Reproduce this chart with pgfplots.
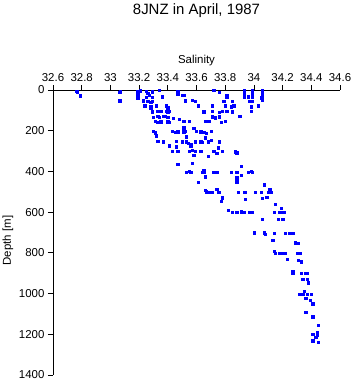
\documentclass[border=0pt]{standalone}
\usepackage{fontspec}
\setmainfont{Liberation Sans}
\usepackage{pgfplots}
\usepackage{pgfplotstable}
\pgfplotsset{compat=1.18}
\pgfplotstableread{
sal depth
32.765 5
32.77 10
32.788 28
33.067 5
33.065 12
33.065 52
33.19 5
33.19 20
33.19 38
33.21 3
33.25 5
33.26 15
33.27 25
33.29 8
33.25 35
33.29 35
33.34 0
33.36 33
33.47 5
33.47 21
33.51 25
33.50 25
33.23 52
33.26 54
33.29 54
33.28 60
33.52 52
33.57 49
33.59 54
33.24 77
33.28 82
33.28 90
33.32 77
33.39 77
33.40 87
33.61 77
33.29 103
33.29 110
33.33 103
33.35 103
33.39 103
33.41 103
33.40 110
33.65 103
33.65 110
33.30 133
33.33 130
33.34 133
33.37 128
33.38 130
33.40 133
33.44 139
33.48 144
33.51 152
33.31 152
33.33 159
33.35 155
33.40 155
33.41 159
33.55 152
33.66 152
33.68 152
33.30 201
33.31 210
33.43 201
33.45 208
33.47 205
33.51 205
33.52 201
33.51 185
33.58 188
33.60 201
33.63 205
33.65 208
33.67 213
33.32 224
33.53 229
33.33 250
33.37 254
33.46 250
33.50 254
33.53 254
33.54 262
33.56 268
33.56 274
33.59 254
33.63 254
33.64 257
33.66 234
33.68 254
33.41 274
33.46 279
33.43 300
33.47 300
33.55 300
33.57 295
33.59 300
33.63 300
33.58 319
33.68 324
33.47 363
33.57 360
33.65 393
33.64 404
33.65 404
33.66 426
33.53 404
33.55 398
33.56 404
33.61 453
33.72 0
33.76 11
33.81 25
33.81 33
33.93 0
33.93 11
33.93 25
33.93 33
33.96 33
33.99 0
33.99 16
33.99 33
33.99 54
33.97 54
34.06 0
34.06 16
34.06 33
34.05 38
34.06 49
33.79 54
33.85 54
33.71 77
33.80 77
33.84 82
33.86 77
33.98 82
34.03 77
33.71 103
33.76 110
33.78 103
33.81 103
33.85 103
33.85 110
33.98 103
33.71 131
33.73 136
33.76 131
33.90 128
33.69 152
33.77 159
33.80 152
33.70 201
33.70 246
33.76 250
33.76 257
33.75 283
33.72 300
33.74 311
33.78 300
33.87 303
33.88 308
33.91 373
33.72 404
33.74 404
33.84 404
33.88 404
33.91 417
33.96 404
33.98 398
33.99 404
33.88 431
33.88 450
34.07 463
33.66 491
33.67 499
33.69 502
33.71 502
33.74 488
33.75 502
33.76 502
33.89 502
33.93 502
33.78 529
33.77 547
33.82 591
33.85 600
33.88 600
33.91 598
33.93 600
33.97 600
34.07 467
34.11 488
34.12 502
34.10 502
33.94 502
34.01 502
34.05 502
33.94 537
34.06 532
34.09 527
34.15 561
34.19 581
33.99 600
34.14 600
34.18 600
34.19 600
34.21 600
34.06 635
34.17 635
34.20 635
34.00 701
34.07 701
34.08 709
34.14 705
34.22 705
34.25 705
34.27 705
34.13 737
34.29 750
34.31 753
34.14 791
34.15 802
34.18 802
34.20 800
34.22 802
34.30 802
34.32 802
34.23 830
34.31 835
34.33 843
34.27 889
34.27 900
34.33 900
34.36 900
34.37 900
34.34 928
34.37 928
34.38 946
34.35 987
34.32 1003
34.34 1002
34.37 1002
34.40 1002
34.36 1023
34.39 1033
34.41 1050
34.36 1092
34.41 1113
34.45 1154
34.41 1200
34.44 1192
34.44 1203
34.43 1216
34.41 1231
34.45 1239
}\ctddata
\begin{document}
\begin{tikzpicture}
\useasboundingbox (-53bp,-9bp) rectangle (300bp,375bp);
\begin{axis}[
  at={(0,0)}, anchor=south west,
  scale only axis,
  width=287bp, height=285bp,
  xmin=32.6, xmax=34.6, ymin=0, ymax=1400,
  y dir=reverse,
  axis x line=top, axis y line=left,
  axis line style={-, black, line width=0.8pt},
  xtick={32.6,32.8,...,34.6},
  ytick={0,200,...,1400},
  tick align=outside,
  major tick length=5bp,
  tick style={black, line width=0.8pt},
  xticklabel pos=top,
  /pgf/number format/assume math mode=true,
  xticklabel style={font=\fontsize{11.5}{13}\selectfont, /pgf/number format/.cd, fixed, precision=1},
  yticklabel style={font=\fontsize{11.5}{13}\selectfont, /pgf/number format/.cd, 1000 sep={}},
  xlabel={Salinity},
  ylabel={Depth [m]},
  xlabel style={font=\fontsize{11.5}{13}\selectfont, at={(axis description cs:0.5,1)}, anchor=center, yshift=29bp},
  ylabel style={font=\fontsize{11.5}{13}\selectfont, at={(axis description cs:0,0.5)}, anchor=center, yshift=45bp, xshift=-8bp},
  title={8JNZ in April, 1987},
  title style={font=\fontsize{15}{17}\selectfont, at={(axis description cs:0.5,1)}, anchor=center, yshift=73bp},
  clip=false,
]
\addplot[only marks, mark=square*, mark size=1.15bp, color=blue, mark options={draw=none, fill=blue}] table[x=sal, y=depth] {\ctddata};
\end{axis}
\end{tikzpicture}
\end{document}
